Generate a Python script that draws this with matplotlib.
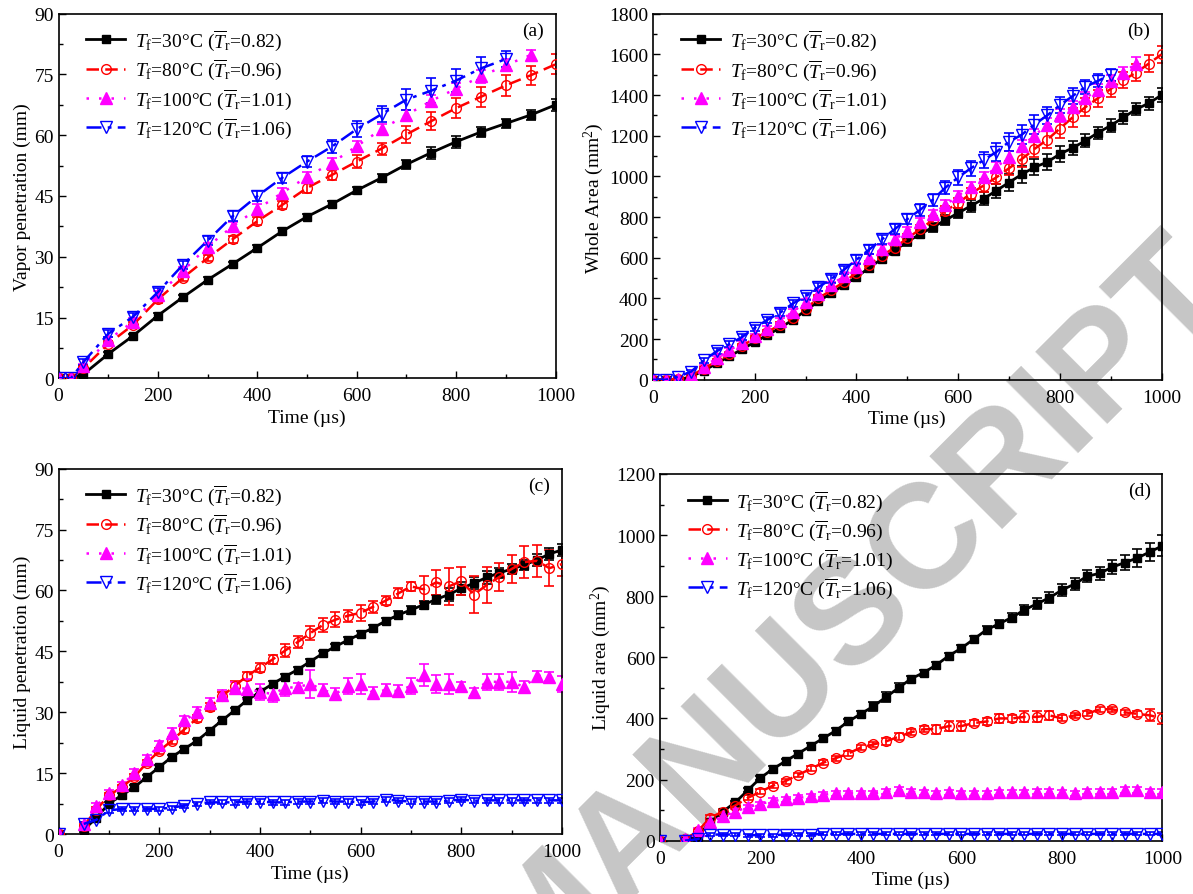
import numpy as np
import matplotlib
matplotlib.use("Agg")
import matplotlib.pyplot as plt
from matplotlib.ticker import MultipleLocator

nan = np.nan

# ---- (a) vapor penetration, mm ----
t_a = [0, 25, 50, 100, 150, 200, 250, 300, 350, 400, 450, 500, 550, 600, 650, 700, 750, 800, 850, 900, 950, 1000]
a_30 = [0, 0, 1.0, 6.0, 10.5, 15.5, 20.0, 24.3, 28.2, 32.2, 36.3, 39.9, 43.0, 46.4, 49.5, 52.8, 55.7, 58.4, 60.8, 62.9, 65.0, 67.5]
a_80 = [0, 0, 2.5, 8.5, 13.2, 19.5, 24.8, 29.7, 34.3, 38.8, 42.8, 47.0, 50.2, 53.5, 56.7, 60.2, 63.5, 66.7, 69.5, 72.3, 74.8, 77.5]
a_100 = [0, 0, 3.0, 9.5, 14.0, 20.5, 26.5, 32.5, 37.5, 41.8, 45.8, 49.7, 53.2, 57.3, 61.5, 65.0, 68.5, 71.5, 74.5, 77.3, 79.8]
a_120 = [0, 0, 4.0, 11.0, 15.2, 21.3, 28.0, 34.0, 40.0, 45.0, 49.5, 53.5, 57.2, 61.5, 65.2, 68.8, 71.0, 73.5, 76.5, 78.8]
ea_30 = [0, 0, 0.3, 0.4, 0.5, 0.5, 0.5, 0.6, 0.6, 0.6, 0.7, 0.7, 0.8, 0.9, 1.0, 1.2, 1.5, 1.5, 1.3, 1.2, 1.3, 1.5]
ea_80 = [0, 0, 0.5, 0.6, 0.7, 0.8, 0.8, 0.8, 0.9, 1.0, 1.0, 1.2, 1.2, 1.5, 1.5, 2.0, 2.3, 2.5, 2.5, 2.5, 2.3, 2.5]
ea_100 = [0, 0, 0.5, 0.8, 0.8, 1.0, 1.0, 1.0, 1.0, 1.2, 1.2, 1.2, 1.2, 1.2, 1.3, 1.3, 1.5, 1.5, 1.5, 1.5, 1.2]
ea_120 = [0, 0, 0.7, 0.8, 0.8, 1.0, 1.0, 1.2, 1.2, 1.2, 1.2, 1.4, 1.5, 2.0, 2.0, 2.5, 3.0, 2.8, 2.8, 2.0]

# ---- (b) whole area, mm2 (every 25 us) ----
t_b = np.arange(0, 1001, 25)
b_30 = [0, 0, 0, 15, 45, 80, 115, 150, 185, 220, 255, 295, 340, 385, 425, 465, 505, 550, 595, 635,
        680, 715, 750, 785, 820, 855, 890, 930, 970, 1010, 1045, 1070, 1110, 1140, 1175, 1215, 1250, 1290, 1330, 1360, 1400]
b_80 = [0, 0, 5, 20, 55, 90, 125, 165, 205, 235, 270, 305, 350, 400, 440, 480, 525, 565, 610, 650,
        695, 740, 785, 830, 870, 915, 955, 995, 1040, 1085, 1135, 1180, 1235, 1290, 1340, 1385, 1430, 1475, 1510, 1555, 1600]
b_100 = [0, 0, 5, 25, 65, 105, 145, 180, 215, 250, 290, 335, 380, 420, 465, 510, 555, 600, 645, 690,
         730, 775, 815, 860, 905, 950, 995, 1045, 1095, 1150, 1200, 1255, 1300, 1340, 1385, 1425, 1470, 1510, 1555]
b_120 = [0, 0, 15, 40, 95, 140, 175, 210, 255, 295, 330, 375, 410, 455, 495, 540, 590, 640, 690, 740,
         790, 835, 885, 945, 995, 1040, 1080, 1120, 1170, 1205, 1255, 1300, 1350, 1395, 1440, 1470, 1500]
eb_30 = [0, 0, 3, 5, 8, 10, 10, 12, 12, 12, 14, 14, 15, 15, 16, 16, 18, 18, 18, 20,
         20, 20, 22, 24, 26, 30, 32, 35, 40, 42, 40, 38, 38, 35, 32, 30, 30, 30, 30, 32, 35]
eb_80 = [0, 0, 3, 5, 8, 10, 10, 10, 12, 12, 12, 14, 14, 15, 15, 16, 16, 18, 18, 18,
         20, 20, 22, 24, 25, 28, 30, 32, 35, 38, 40, 42, 45, 48, 45, 42, 40, 40, 42, 42, 40]
eb_100 = [0, 0, 3, 5, 8, 10, 10, 12, 12, 12, 14, 14, 15, 15, 16, 16, 18, 18, 18, 20,
          20, 20, 22, 22, 24, 25, 25, 28, 30, 30, 32, 32, 30, 30, 30, 28, 28, 30, 30]
eb_120 = [0, 0, 5, 8, 12, 15, 15, 15, 16, 16, 18, 18, 18, 20, 20, 20, 22, 22, 24, 25,
          26, 28, 30, 32, 35, 38, 40, 42, 45, 48, 45, 42, 40, 38, 35, 32, 30]

# ---- (c) liquid penetration, mm ----
t_c = np.arange(0, 1001, 25)
c_30 = [0, nan, 1.0, 4.0, 7.5, 9.5, 11.5, 14.0, 16.5, 19.0, 21.0, 23.0, 25.5, 28.0, 30.5, 33.0, 35.0, 37.0, 38.8, 40.5,
        42.5, 44.5, 46.2, 47.8, 49.3, 50.8, 52.5, 54.0, 55.2, 56.5, 57.8, 59.0, 60.5, 61.8, 63.2, 64.3, 65.3, 66.3, 67.5, 69.0, 70.0]
c_80 = [0, nan, 2.0, 6.0, 9.5, 11.5, 14.0, 17.5, 20.5, 23.0, 25.8, 28.5, 31.2, 34.0, 36.5, 39.0, 41.0, 43.0, 45.2, 47.3,
        49.5, 51.5, 52.8, 53.8, 54.5, 56.0, 57.5, 59.3, 61.0, 60.3, 62.0, 61.0, 62.3, 59.0, 61.3, 63.3, 65.3, 67.0, 67.3, 65.5, 66.5]
c_100 = [0, nan, 2.5, 7.0, 10.0, 12.0, 15.0, 18.5, 22.0, 25.0, 28.0, 30.0, 32.2, 34.2, 36.0, 35.8, 35.0, 34.5, 36.0, 36.2,
         37.0, 35.5, 34.5, 36.5, 37.0, 34.8, 35.5, 35.2, 36.5, 39.2, 37.0, 37.0, 36.5, 35.0, 37.5, 37.5, 37.5, 36.2, 39.0, 38.8, 37.0]
c_120 = [0, nan, 2.5, 3.5, 5.8, 6.2, 6.2, 6.2, 6.2, 6.5, 7.0, 7.5, 7.8, 7.8, 7.8, 8.0, 8.0, 7.8, 7.8, 8.0,
         8.0, 8.2, 8.0, 8.0, 7.8, 8.0, 8.5, 8.2, 8.0, 8.0, 8.0, 8.2, 8.5, 8.2, 8.3, 8.3, 8.3, 8.3, 8.3, 8.3, 8.3]
ec_30 = [0, 0, 0.5, 0.5, 0.5, 0.5, 0.5, 0.5, 0.5, 0.5, 0.5, 0.5, 0.6, 0.6, 0.6, 0.6, 0.6, 0.6, 0.6, 0.7,
         0.7, 0.7, 0.7, 0.8, 0.8, 0.8, 0.8, 0.9, 0.9, 1.0, 1.2, 1.5, 1.5, 1.5, 1.5, 1.2, 1.2, 1.2, 1.5, 1.5, 1.5]
ec_80 = [0, 0, 0.5, 0.6, 0.7, 0.7, 0.8, 0.8, 0.8, 0.8, 0.8, 0.9, 1.0, 1.0, 1.2, 1.0, 1.2, 1.2, 1.5, 1.5,
         1.8, 1.8, 1.8, 1.5, 2.0, 1.5, 1.2, 1.2, 1.2, 3.3, 3.0, 4.5, 3.5, 4.5, 4.5, 3.5, 3.5, 4.0, 4.0, 4.5, 3.0]
ec_100 = [0, 0, 0.5, 0.6, 0.8, 0.8, 1.0, 1.0, 1.0, 1.0, 1.0, 1.2, 1.2, 1.2, 1.5, 2.5, 2.0, 2.0, 2.0, 1.0,
          3.5, 1.5, 1.5, 2.0, 2.5, 1.5, 1.5, 1.5, 2.0, 2.8, 2.2, 2.5, 1.0, 1.0, 2.0, 2.0, 2.5, 1.5, 1.2, 1.0, 2.0]
ec_120 = [0, 0, 0.5, 0.5, 0.5, 0.5, 0.5, 0.5, 0.5, 0.5, 0.5, 0.5, 0.5, 0.5, 0.6, 0.6, 0.6, 0.6, 0.6, 0.6,
          0.6, 0.6, 0.6, 0.6, 0.6, 0.6, 0.6, 0.6, 0.6, 0.6, 0.6, 0.6, 0.6, 0.6, 0.6, 0.6, 0.6, 0.6, 0.6, 0.6, 0.6]

# ---- (d) liquid area, mm2 ----
t_d = np.arange(0, 1001, 25)
d_30 = [0, nan, 0, 15, 60, 95, 125, 165, 205, 235, 260, 285, 310, 335, 360, 390, 415, 440, 470, 500,
        530, 550, 575, 605, 630, 660, 690, 710, 730, 755, 775, 795, 820, 840, 865, 875, 895, 910, 925, 945, 965]
d_80 = [0, nan, 5, 30, 75, 95, 115, 140, 160, 180, 195, 215, 235, 255, 270, 285, 305, 315, 325, 340,
        355, 365, 365, 375, 375, 385, 390, 400, 400, 405, 405, 410, 400, 410, 415, 430, 430, 420, 415, 410, 400]
d_100 = [0, nan, 5, 35, 60, 80, 95, 110, 120, 130, 135, 140, 145, 150, 155, 155, 155, 155, 160, 165,
         160, 158, 155, 158, 155, 155, 155, 158, 158, 158, 160, 160, 158, 155, 160, 160, 160, 165, 165, 160, 160]
d_120 = [0, nan, 0, 5, 20, 20, 20, 18, 18, 18, 20, 20, 20, 22, 22, 22, 22, 22, 22, 22,
         22, 22, 22, 22, 22, 22, 22, 22, 22, 22, 22, 22, 22, 22, 22, 22, 22, 22, 22, 22, 22]
ed_30 = [0, 0, 3, 5, 5, 6, 6, 6, 8, 8, 8, 8, 8, 8, 8, 8, 10, 15, 15, 15,
         10, 10, 10, 10, 10, 10, 12, 12, 15, 15, 18, 18, 20, 20, 20, 22, 22, 25, 30, 30, 35]
ed_80 = [0, 0, 5, 8, 8, 8, 8, 8, 8, 8, 8, 8, 8, 8, 8, 8, 8, 8, 12, 12,
         10, 10, 15, 15, 15, 10, 10, 15, 12, 18, 18, 15, 10, 8, 8, 8, 8, 8, 10, 20, 18]
ed_100 = [0, 0, 5, 8, 8, 8, 8, 8, 8, 8, 8, 8, 8, 8, 8, 8, 8, 8, 8, 10,
          8, 8, 8, 8, 8, 8, 8, 8, 8, 8, 8, 8, 8, 8, 8, 8, 8, 10, 10, 8, 8]
ed_120 = [0, 0, 3, 5, 5, 5, 5, 5, 5, 5, 5, 5, 5, 5, 5, 5, 5, 5, 5, 5,
          5, 5, 5, 5, 5, 5, 5, 5, 5, 5, 5, 5, 5, 5, 5, 5, 5, 5, 5, 5, 5]

labels = [r'$T_\mathrm{f}$=30°C ($\overline{T}_\mathrm{r}$=0.82)',
          r'$T_\mathrm{f}$=80°C ($\overline{T}_\mathrm{r}$=0.96)',
          r'$T_\mathrm{f}$=100°C ($\overline{T}_\mathrm{r}$=1.01)',
          r'$T_\mathrm{f}$=120°C ($\overline{T}_\mathrm{r}$=1.06)']

plt.rcParams['font.family'] = 'Liberation Serif'
plt.rcParams['mathtext.fontset'] = 'custom'
plt.rcParams['mathtext.rm'] = 'Liberation Serif'
plt.rcParams['mathtext.it'] = 'Liberation Serif:italic'
plt.rcParams['font.size'] = 14

styles = [
    dict(color='black', ls='-', marker='s', mfc='black', ms=6, lw=2.0),
    dict(color='red', ls=(0, (5, 2.5)), marker='o', mfc='none', ms=7, lw=1.8, mew=1.0),
    dict(color='magenta', ls=(0, (1, 4)), marker='^', mfc='magenta', ms=8, lw=1.8),
    dict(color='blue', ls=(0, (6, 2.5, 1.5, 2.5)), marker='v', mfc='none', ms=8, lw=1.8, mew=1.0),
]


def draw_panel(ax, series, ymax, ymajor, ylabel, tag):
    for (t, y, e), st, lab in zip(series, styles, labels):
        t = np.asarray(t)[:len(y)]
        ax.errorbar(t, y, yerr=e, fmt='none', ecolor=st['color'], elinewidth=1.2,
                    capsize=3.5, capthick=1.2, zorder=2)
        ax.plot(t, y, label=lab, zorder=3, **st)
    ax.set_xlim(0, 1000)
    ax.set_ylim(0, ymax)
    ax.xaxis.set_major_locator(MultipleLocator(200))
    ax.xaxis.set_minor_locator(MultipleLocator(100))
    ax.yaxis.set_major_locator(MultipleLocator(ymajor))
    ax.yaxis.set_minor_locator(MultipleLocator(ymajor / 2))
    ax.tick_params(which='both', direction='in', top=False, right=False, labelsize=14)
    ax.tick_params(which='major', length=5, width=1)
    ax.tick_params(which='minor', length=3, width=1)
    ax.tick_params(axis='x', pad=6.5)
    for sp in ax.spines.values():
        sp.set_linewidth(1.2)
    ax.set_facecolor('none')
    ax.set_xlabel('Time (µs)', fontsize=14, labelpad=3)
    ax.set_ylabel(ylabel, fontsize=14, labelpad=2)
    ax.text(0.955, 0.955, tag, transform=ax.transAxes, ha='center', va='center', fontsize=14)
    ax.legend(loc='upper left', bbox_to_anchor=(0.04, 0.984), borderaxespad=0, frameon=False,
              numpoints=1, handlelength=2.0, handletextpad=0.5, labelspacing=0.22, fontsize=14)


fig = plt.figure(figsize=(11.93, 8.95), dpi=100)
fig.patch.set_facecolor('white')

# grey watermark behind the panels
fig.text(1.0126, 0.6994, 'ACCEPTED MANUSCRIPT', rotation=45, rotation_mode='anchor',
         ha='right', va='center', fontsize=107, fontweight='bold', family='Liberation Sans',
         color='#c6c6c6', zorder=-1)

ax_a = fig.add_axes([0.0491, 0.5762, 0.4166, 0.4074])
ax_b = fig.add_axes([0.5474, 0.5746, 0.4262, 0.4089])
ax_c = fig.add_axes([0.0491, 0.0670, 0.4220, 0.4082])
ax_d = fig.add_axes([0.5531, 0.0596, 0.4213, 0.4097])

draw_panel(ax_a, [(t_a, a_30, ea_30), (t_a, a_80, ea_80), (t_a, a_100, ea_100), (t_a, a_120, ea_120)],
           90, 15, 'Vapor penetration (mm)', '(a)')
draw_panel(ax_b, [(t_b, b_30, eb_30), (t_b, b_80, eb_80), (t_b, b_100, eb_100), (t_b, b_120, eb_120)],
           1800, 200, 'Whole Area (mm$^2$)', '(b)')
draw_panel(ax_c, [(t_c, c_30, ec_30), (t_c, c_80, ec_80), (t_c, c_100, ec_100), (t_c, c_120, ec_120)],
           90, 15, 'Liquid penetration (mm)', '(c)')
draw_panel(ax_d, [(t_d, d_30, ed_30), (t_d, d_80, ed_80), (t_d, d_100, ed_100), (t_d, d_120, ed_120)],
           1200, 200, 'Liquid area (mm$^2$)', '(d)')

plt.savefig('out.png', dpi=100)
